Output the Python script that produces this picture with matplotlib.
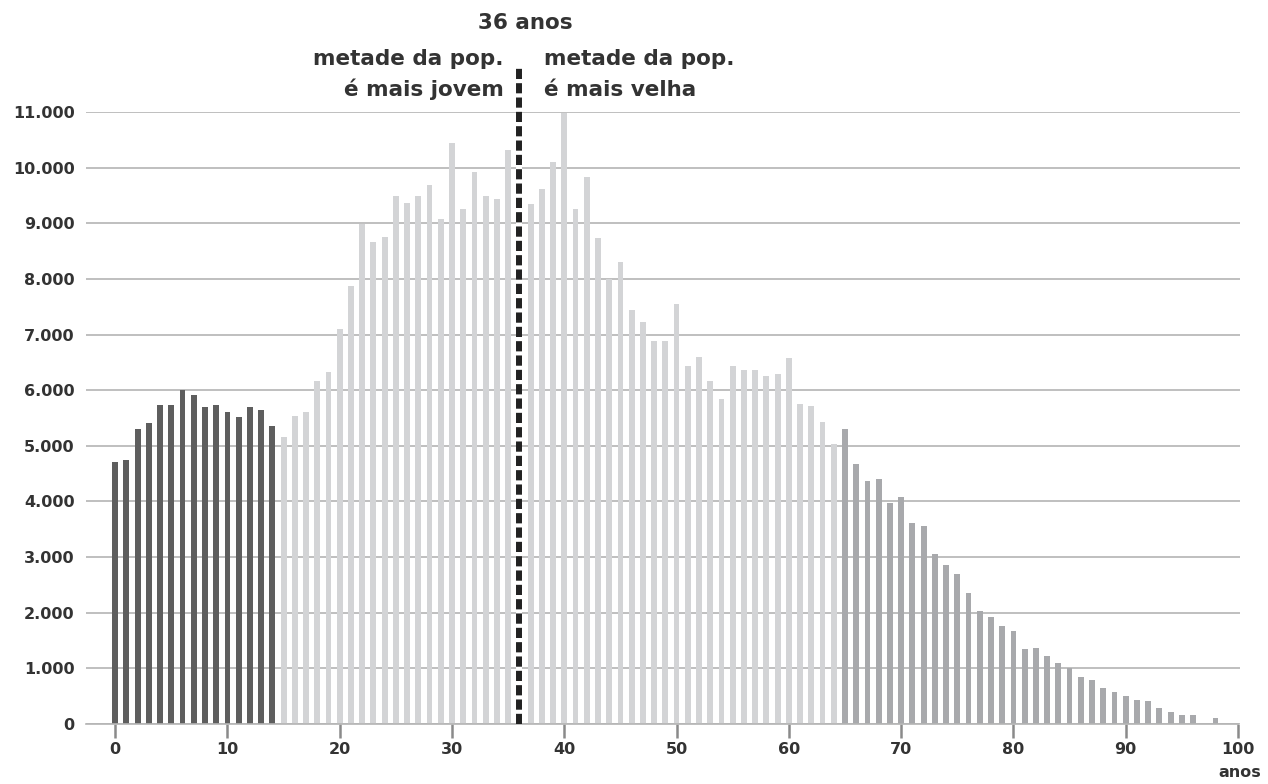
import numpy as np
import matplotlib
matplotlib.use('Agg')
import matplotlib.pyplot as plt

# population by single year of age (0..99)
ages = np.arange(0, 100)
pop = [4710, 4750, 5310, 5410, 5740, 5740, 6000, 5910, 5700, 5740,
       5610, 5520, 5700, 5640, 5350, 5160, 5540, 5610, 6170, 6330,
       7100, 7880, 8990, 8670, 8750, 9490, 9370, 9490, 9690, 9080,
       10450, 9260, 9920, 9490, 9430, 10310, 9700, 9340, 9620, 10100,
       10980, 9260, 9830, 8740, 7990, 8310, 7440, 7220, 6880, 6880,
       7550, 6430, 6600, 6170, 5850, 6430, 6370, 6360, 6260, 6290,
       6580, 5760, 5720, 5430, 5040, 5310, 4680, 4360, 4410, 3980,
       4080, 3620, 3560, 3060, 2860, 2700, 2360, 2040, 1930, 1770,
       1670, 1340, 1370, 1220, 1090, 1010, 840, 800, 640, 570,
       500, 440, 410, 280, 210, 170, 170, 0, 110, 0]
median_age = 36

y_ticks = np.arange(0, 11001, 1000)
y_labels = ['0', '1.000', '2.000', '3.000', '4.000', '5.000', '6.000',
            '7.000', '8.000', '9.000', '10.000', '11.000']
x_ticks = np.arange(0, 101, 10)
x_labels = [str(v) for v in x_ticks]

col_young = '#5e5e5e'
col_adult = '#d3d4d6'
col_old = '#a8a9ac'
txt_col = '#333333'

colours = [col_young if a < 15 else (col_adult if a < 65 else col_old) for a in ages]

fig = plt.figure(figsize=(12.68, 7.84), dpi=100)
ax = fig.add_axes([0.0678, 0.0765, 0.9103, 0.7806])

ax.bar(ages, pop, width=0.52, color=colours, zorder=2)

ax.set_xlim(-2.6, 100.2)
ax.set_ylim(0, 11000)

ax.set_yticks(y_ticks)
ax.set_yticklabels(y_labels)
ax.set_xticks(x_ticks)
ax.set_xticklabels(x_labels)

ax.grid(axis='y', color='#b4b4b4', linewidth=1.2, zorder=0)
ax.set_axisbelow(True)
for s in ['top', 'right', 'left']:
    ax.spines[s].set_visible(False)
ax.spines['bottom'].set_color('#b4b4b4')
ax.spines['bottom'].set_linewidth(1.2)
ax.spines['bottom'].set_bounds(-2.6, 100)

ax.tick_params(axis='y', length=0, pad=8, labelsize=11.5, labelcolor=txt_col)
ax.tick_params(axis='x', length=10, width=1.8, color='#8a8a8a', pad=3,
               labelsize=11.5, labelcolor=txt_col)
for lab in ax.get_xticklabels() + ax.get_yticklabels():
    lab.set_fontweight('bold')

ax.text(100.2, -870, 'anos', ha='center', va='center', fontsize=11.5,
        fontweight='bold', color=txt_col, clip_on=False)

# median line
ax.plot([median_age, median_age], [0, 11800], color='#222222', linewidth=4.3,
        linestyle=(0, (1.7, 0.7)), gapcolor='white', dash_capstyle='butt',
        solid_capstyle='butt', clip_on=False, zorder=5)

ax.text(36.5, 12490, '36 anos', ha='center', va='baseline', fontsize=15.5,
        fontweight='bold', color=txt_col, clip_on=False)
ax.text(34.6, 11850, 'metade da pop.', ha='right', va='baseline', fontsize=15.5,
        fontweight='bold', color=txt_col, clip_on=False)
ax.text(34.6, 11280, 'é mais jovem', ha='right', va='baseline', fontsize=15.5,
        fontweight='bold', color=txt_col, clip_on=False)
ax.text(38.15, 11850, 'metade da pop.', ha='left', va='baseline', fontsize=15.5,
        fontweight='bold', color=txt_col, clip_on=False)
ax.text(38.15, 11280, 'é mais velha', ha='left', va='baseline', fontsize=15.5,
        fontweight='bold', color=txt_col, clip_on=False)

fig.savefig('out.png', dpi=100, facecolor='white')
